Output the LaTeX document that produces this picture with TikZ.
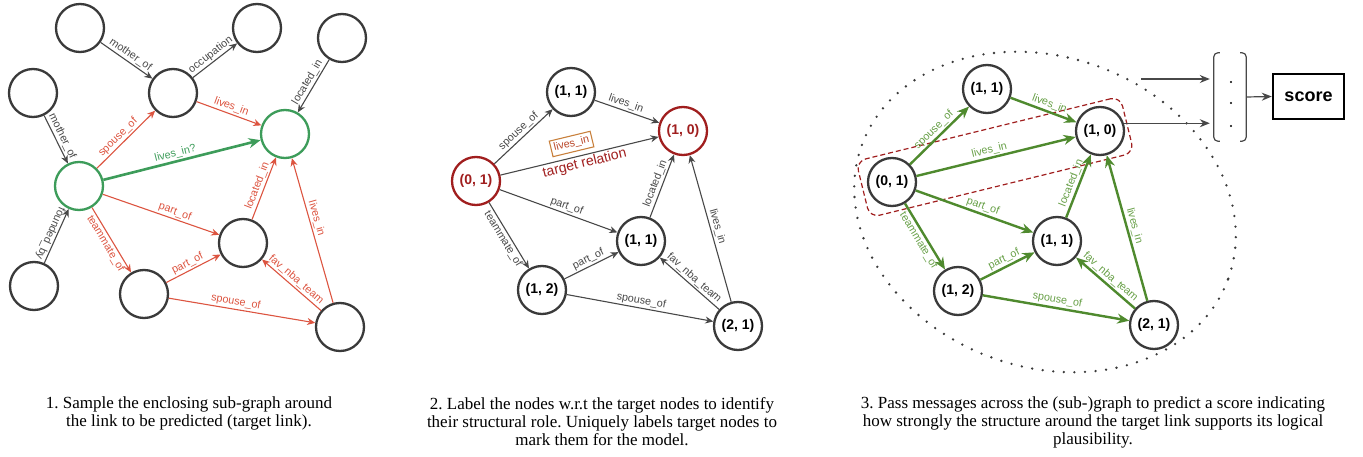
\documentclass[tikz,border=0pt]{standalone}
\usepackage{fontspec}
\setmainfont{Liberation Serif}
\setsansfont{Liberation Sans}
\usetikzlibrary{arrows.meta}
\frenchspacing
\definecolor{cgray}{RGB}{58,58,58}
\definecolor{egray}{RGB}{72,72,72}
\definecolor{red1}{RGB}{220,84,64}
\definecolor{green1}{RGB}{61,156,90}
\definecolor{dred}{RGB}{160,30,30}
\definecolor{orange1}{RGB}{200,128,60}
\definecolor{boxtxt}{RGB}{185,70,40}
\definecolor{green3}{RGB}{79,138,46}
\definecolor{green3l}{RGB}{104,160,72}
\begin{document}
\begin{tikzpicture}[x=1pt,y=1pt,
  nd/.style={circle, draw=cgray, fill=white, line width=2.3pt, minimum size=48pt, inner sep=0pt,
    font=\sffamily\bfseries\fontsize{14}{16}\selectfont},
  lab/.style={font=\sffamily\fontsize{10.8}{12}\selectfont, inner sep=1.5pt, sloped},
  ga/.style={color=egray, line width=1.1pt, -{Stealth[length=8pt,width=7pt]}},
  ra/.style={color=red1, line width=1.1pt, -{Stealth[length=8pt,width=7pt]}},
  gr1/.style={color=green1, line width=2.6pt, -{Stealth[length=12pt,width=10pt]}},
  ta/.style={color=green3, line width=2.4pt, -{Stealth[length=12pt,width=10pt]}},
  tl/.style={lab, text=green3l},
  captxt/.style={align=center, font=\fontsize{17}{18}\selectfont\frenchspacing, inner sep=0pt, anchor=north},
  dotell/.style={draw=cgray, line width=2.6pt, line cap=round, dash pattern=on 0pt off 10.6pt},
]
\useasboundingbox (0,0) rectangle (1363,-457);

% ---------------- Panel 1 ----------------
\node[nd] (A) at (80,-28) {};
\node[nd] (B) at (173,-93) {};
\node[nd] (C) at (33,-93) {};
\node[nd, draw=green1] (G) at (79,-186) {};
\node[nd] (D) at (257,-28) {};
\node[nd] (E) at (342,-38) {};
\node[nd, draw=green1] (T) at (285,-134) {};
\node[nd] (F) at (34,-286) {};
\node[nd] (H) at (144,-294) {};
\node[nd] (I) at (243,-243) {};
\node[nd] (J) at (340,-327) {};

\draw[ga] (A) -- node[lab,above]{mother\_of} (B);
\draw[ga] (B) -- node[lab,above]{occupation} (D);
\draw[ga] (C) -- node[lab,above]{mother\_of} (G);
\draw[ga] (F) -- coordinate[midway] (fg) (G);
\node[font=\sffamily\fontsize{10.8}{12}\selectfont, inner sep=1.5pt, rotate=-114.2, anchor=north, text=egray] (fgl) at (fg) {founded\_by};
\draw[ga] (E) -- node[lab,above]{located\_in} (T);
\draw[ra] (G) -- node[lab,above,pos=0.45]{spouse\_of} (B);
\draw[ra] (B) -- node[lab,above]{lives\_in} (T);
\draw[gr1] (G) -- node[lab,above,pos=0.47]{lives\_in?} (T);
\draw[ra] (G) -- node[lab,above,pos=0.6]{part\_of} (I);
\draw[ra] (G) -- node[lab,below]{teammate\_of} (H);
\draw[ra] (H) -- node[lab,above,pos=0.45]{part\_of} (I);
\draw[ra] (H) -- node[lab,above,pos=0.45]{spouse\_of} (J);
\draw[ra] (I) -- node[lab,above]{located\_in} (T);
\draw[ra] (J) -- node[lab,above,pos=0.57]{lives\_in} (T);
\draw[ra] (J) -- node[lab,above]{fav\_nba\_team} (I);

% ---------------- Panel 2 ----------------
\node[nd] (p2a) at (571,-92) {(1, 1)};
\node[nd, draw=dred, text=dred] (p2s) at (476,-181) {(0, 1)};
\node[nd, draw=dred, text=dred] (p2t) at (683,-131) {(1, 0)};
\node[nd] (p2m) at (641,-241) {(1, 1)};
\node[nd] (p2l) at (542,-290) {(1, 2)};
\node[nd] (p2r) at (738,-326) {(2, 1)};

\draw[ga] (p2s) -- node[lab,above]{spouse\_of} (p2a);
\draw[ga] (p2a) -- node[lab,above,pos=0.45]{lives\_in} (p2t);
\draw[ga] (p2s) -- node[lab,above=5pt,pos=0.47,draw=orange1,line width=1.1pt,text=boxtxt,inner sep=3pt]{lives\_in}
  node[lab,below,pos=0.52,text=dred,font=\sffamily\fontsize{14}{16}\selectfont]{target relation} (p2t);
\draw[ga] (p2s) -- node[lab,above,pos=0.55]{part\_of} (p2m);
\draw[ga] (p2s) -- node[lab,below]{teammate\_of} (p2l);
\draw[ga] (p2l) -- node[lab,above]{part\_of} (p2m);
\draw[ga] (p2l) -- node[lab,above]{spouse\_of} (p2r);
\draw[ga] (p2m) -- node[lab,above]{located\_in} (p2t);
\draw[ga] (p2r) -- node[lab,above]{lives\_in} (p2t);
\draw[ga] (p2r) -- node[lab,above]{fav\_nba\_team} (p2m);

% ---------------- Panel 3 ----------------
\draw[dotell, rotate around={-20:(1045,-212)}] (1045,-212) ellipse [x radius=195, y radius=155];
\node[draw=dred, dash pattern=on 5pt off 3pt, line width=1.2pt, rounded corners=10pt,
  minimum width=272pt, minimum height=58pt, rotate=13.8] (pair) at (995,-157) {};

\node[nd] (p3a) at (987,-89) {(1, 1)};
\node[nd] (p3s) at (892,-182) {(0, 1)};
\node[nd] (p3t) at (1100,-131) {(1, 0)};
\node[nd] (p3m) at (1057,-241) {(1, 1)};
\node[nd] (p3l) at (958,-291) {(1, 2)};
\node[nd] (p3r) at (1154,-325) {(2, 1)};

\draw[ta] (p3s) -- node[tl,above]{spouse\_of} (p3a);
\draw[ta] (p3a) -- node[tl,above,pos=0.55]{lives\_in} (p3t);
\draw[ta] (p3s) -- node[tl,above,pos=0.47]{lives\_in} (p3t);
\draw[ta] (p3s) -- node[tl,above,pos=0.55]{part\_of} (p3m);
\draw[ta] (p3s) -- node[tl,below]{teammate\_of} (p3l);
\draw[ta] (p3l) -- node[tl,above]{part\_of} (p3m);
\draw[ta] (p3l) -- node[tl,above]{spouse\_of} (p3r);
\draw[ta] (p3m) -- node[tl,above]{located\_in} (p3t);
\draw[ta] (p3r) -- node[tl,above]{lives\_in} (p3t);
\draw[ta] (p3r) -- node[tl,above]{fav\_nba\_team} (p3m);

% output vector and score
\node[minimum width=32pt, minimum height=88pt, inner sep=0pt] (vec) at (1230,-97) {};
\draw[egray, line width=1.2pt, rounded corners=4pt]
  ([xshift=6pt]vec.north west) -- (vec.north west) -- (vec.south west) -- ([xshift=6pt]vec.south west);
\draw[egray, line width=1.2pt, rounded corners=4pt]
  ([xshift=-6pt]vec.north east) -- (vec.north east) -- (vec.south east) -- ([xshift=-6pt]vec.south east);
\fill[black] (1231,-82) circle (1.1pt) (1231,-103) circle (1.1pt) (1231,-126) circle (1.1pt);
\node[draw=black, line width=2.5pt, minimum width=71pt, minimum height=45pt, inner sep=0pt,
  font=\sffamily\bfseries\fontsize{18}{20}\selectfont] (score) at (1308.5,-96.5) {score};
\coordinate (in1) at (1141,-79);
\draw[egray, line width=1.2pt, -{Stealth[length=10pt,width=8pt]}, shorten >=4pt] (in1) -- (in1 -| vec.west);
\draw[egray, line width=1.2pt, -{Stealth[length=10pt,width=8pt]}, shorten >=4pt] (p3t.18) -- (p3t.18 -| vec.west);
\draw[egray, line width=1.2pt, -{Stealth[length=10pt,width=8pt]}] (vec.east) -- (score.west);

% ---------------- Captions ----------------
\node[captxt] (cap1) at (189,-397) {1. Sample the enclosing sub-graph around\\the link to be predicted (target link).};
\node[captxt] (cap2) at (602,-397) {2. Label the nodes w.r.t the target nodes to identify\\their structural role. Uniquely labels target nodes to\\mark them for the model.};
\node[captxt] (cap3) at (1093,-397) {3. Pass messages across the (sub-)graph to predict a score indicating\\how strongly the structure around the target link supports its logical\\plausibility.};
\end{tikzpicture}
\end{document}
